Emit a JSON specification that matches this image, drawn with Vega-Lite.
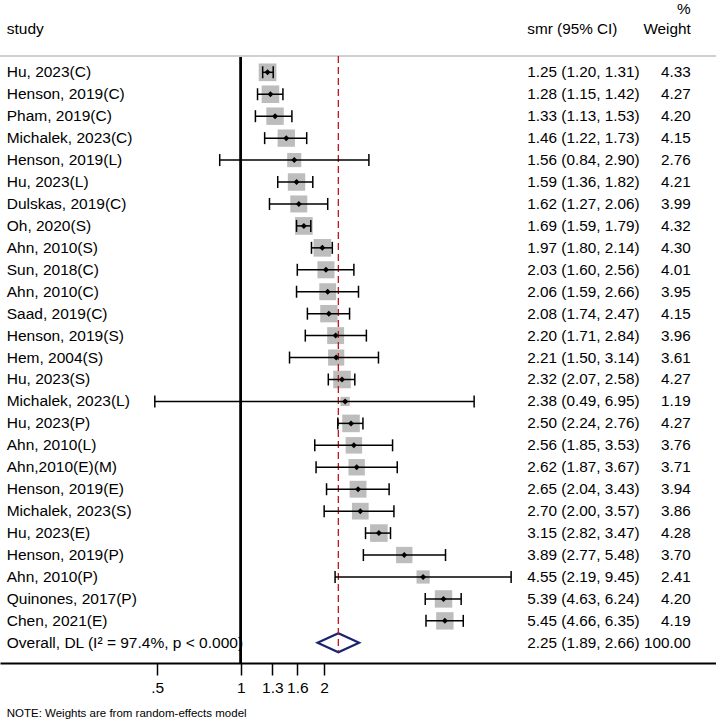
{
  "$schema": "https://vega.github.io/schema/vega-lite/v6.json",
  "width": 716,
  "height": 663,
  "autosize": "none",
  "padding": {"left": 0, "top": 0, "right": 0, "bottom": 58},
  "background": "white",
  "config": {"view": {"stroke": null}, "text": {"font": "Liberation Sans", "color": "black"}},
  "datasets": {
    "rows": [
      {"study": "Hu, 2023(C)", "row": 1, "smr": 1.25, "lci": 1.20, "uci": 1.31, "weight": 4.33, "ci": "1.25 (1.20, 1.31)", "wt": "4.33", "kind": "study"},
      {"study": "Henson, 2019(C)", "row": 2, "smr": 1.28, "lci": 1.15, "uci": 1.42, "weight": 4.27, "ci": "1.28 (1.15, 1.42)", "wt": "4.27", "kind": "study"},
      {"study": "Pham, 2019(C)", "row": 3, "smr": 1.33, "lci": 1.13, "uci": 1.53, "weight": 4.20, "ci": "1.33 (1.13, 1.53)", "wt": "4.20", "kind": "study"},
      {"study": "Michalek, 2023(C)", "row": 4, "smr": 1.46, "lci": 1.22, "uci": 1.73, "weight": 4.15, "ci": "1.46 (1.22, 1.73)", "wt": "4.15", "kind": "study"},
      {"study": "Henson, 2019(L)", "row": 5, "smr": 1.56, "lci": 0.84, "uci": 2.90, "weight": 2.76, "ci": "1.56 (0.84, 2.90)", "wt": "2.76", "kind": "study"},
      {"study": "Hu, 2023(L)", "row": 6, "smr": 1.59, "lci": 1.36, "uci": 1.82, "weight": 4.21, "ci": "1.59 (1.36, 1.82)", "wt": "4.21", "kind": "study"},
      {"study": "Dulskas, 2019(C)", "row": 7, "smr": 1.62, "lci": 1.27, "uci": 2.06, "weight": 3.99, "ci": "1.62 (1.27, 2.06)", "wt": "3.99", "kind": "study"},
      {"study": "Oh, 2020(S)", "row": 8, "smr": 1.69, "lci": 1.59, "uci": 1.79, "weight": 4.32, "ci": "1.69 (1.59, 1.79)", "wt": "4.32", "kind": "study"},
      {"study": "Ahn, 2010(S)", "row": 9, "smr": 1.97, "lci": 1.80, "uci": 2.14, "weight": 4.30, "ci": "1.97 (1.80, 2.14)", "wt": "4.30", "kind": "study"},
      {"study": "Sun, 2018(C)", "row": 10, "smr": 2.03, "lci": 1.60, "uci": 2.56, "weight": 4.01, "ci": "2.03 (1.60, 2.56)", "wt": "4.01", "kind": "study"},
      {"study": "Ahn, 2010(C)", "row": 11, "smr": 2.06, "lci": 1.59, "uci": 2.66, "weight": 3.95, "ci": "2.06 (1.59, 2.66)", "wt": "3.95", "kind": "study"},
      {"study": "Saad, 2019(C)", "row": 12, "smr": 2.08, "lci": 1.74, "uci": 2.47, "weight": 4.15, "ci": "2.08 (1.74, 2.47)", "wt": "4.15", "kind": "study"},
      {"study": "Henson, 2019(S)", "row": 13, "smr": 2.20, "lci": 1.71, "uci": 2.84, "weight": 3.96, "ci": "2.20 (1.71, 2.84)", "wt": "3.96", "kind": "study"},
      {"study": "Hem, 2004(S)", "row": 14, "smr": 2.21, "lci": 1.50, "uci": 3.14, "weight": 3.61, "ci": "2.21 (1.50, 3.14)", "wt": "3.61", "kind": "study"},
      {"study": "Hu, 2023(S)", "row": 15, "smr": 2.32, "lci": 2.07, "uci": 2.58, "weight": 4.27, "ci": "2.32 (2.07, 2.58)", "wt": "4.27", "kind": "study"},
      {"study": "Michalek, 2023(L)", "row": 16, "smr": 2.38, "lci": 0.49, "uci": 6.95, "weight": 1.19, "ci": "2.38 (0.49, 6.95)", "wt": "1.19", "kind": "study"},
      {"study": "Hu, 2023(P)", "row": 17, "smr": 2.50, "lci": 2.24, "uci": 2.76, "weight": 4.27, "ci": "2.50 (2.24, 2.76)", "wt": "4.27", "kind": "study"},
      {"study": "Ahn, 2010(L)", "row": 18, "smr": 2.56, "lci": 1.85, "uci": 3.53, "weight": 3.76, "ci": "2.56 (1.85, 3.53)", "wt": "3.76", "kind": "study"},
      {"study": "Ahn,2010(E)(M)", "row": 19, "smr": 2.62, "lci": 1.87, "uci": 3.67, "weight": 3.71, "ci": "2.62 (1.87, 3.67)", "wt": "3.71", "kind": "study"},
      {"study": "Henson, 2019(E)", "row": 20, "smr": 2.65, "lci": 2.04, "uci": 3.43, "weight": 3.94, "ci": "2.65 (2.04, 3.43)", "wt": "3.94", "kind": "study"},
      {"study": "Michalek, 2023(S)", "row": 21, "smr": 2.70, "lci": 2.00, "uci": 3.57, "weight": 3.86, "ci": "2.70 (2.00, 3.57)", "wt": "3.86", "kind": "study"},
      {"study": "Hu, 2023(E)", "row": 22, "smr": 3.15, "lci": 2.82, "uci": 3.47, "weight": 4.28, "ci": "3.15 (2.82, 3.47)", "wt": "4.28", "kind": "study"},
      {"study": "Henson, 2019(P)", "row": 23, "smr": 3.89, "lci": 2.77, "uci": 5.48, "weight": 3.70, "ci": "3.89 (2.77, 5.48)", "wt": "3.70", "kind": "study"},
      {"study": "Ahn, 2010(P)", "row": 24, "smr": 4.55, "lci": 2.19, "uci": 9.45, "weight": 2.41, "ci": "4.55 (2.19, 9.45)", "wt": "2.41", "kind": "study"},
      {"study": "Quinones, 2017(P)", "row": 25, "smr": 5.39, "lci": 4.63, "uci": 6.24, "weight": 4.20, "ci": "5.39 (4.63, 6.24)", "wt": "4.20", "kind": "study"},
      {"study": "Chen, 2021(E)", "row": 26, "smr": 5.45, "lci": 4.66, "uci": 6.35, "weight": 4.19, "ci": "5.45 (4.66, 6.35)", "wt": "4.19", "kind": "study"},
      {"study": "Overall, DL (I² = 97.4%, p < 0.000)", "row": 27, "smr": 2.25, "lci": 1.89, "uci": 2.66, "weight": 100, "ci": "2.25 (1.89, 2.66)", "wt": "100.00", "kind": "overall"}
    ]
  },
  "data": {"name": "rows"},
  "layer": [
    {
      "mark": {"type": "rule", "color": "black", "strokeWidth": 1.5},
      "encoding": {
        "x": {"datum": 1, "type": "quantitative", "scale": {"type": "log", "domain": [0.13545, 51.81], "nice": false, "zero": false}, "axis": {"values": [0.5, 1, 1.3, 1.6, 2], "labelExpr": "datum.value == 0.5 ? '.5' : datum.label", "title": null, "grid": false, "domainColor": "black", "domainWidth": 2, "tickColor": "black", "tickWidth": 1.5, "tickSize": 12, "labelColor": "black", "labelFont": "Liberation Sans", "labelFontSize": 15.5, "labelPadding": 5, "labelFlush": false, "labelOverlap": false}},
        "y": {"datum": 0.257, "type": "quantitative", "scale": {"domain": [-2.295, 27.92], "reverse": true, "nice": false, "zero": false}, "axis": null},
        "y2": {"datum": 27.92}
      }
    },
    {
      "mark": {"type": "rule", "color": "#d0d0d0", "strokeWidth": 2},
      "encoding": {"y": {"datum": 0.257, "type": "quantitative"}, "x": {"datum": 0.13545, "type": "quantitative"}, "x2": {"datum": 51.81}}
    },
    {
      "transform": [{"filter": "datum.kind == 'study'"}],
      "mark": {"type": "point", "shape": "square", "filled": true, "color": "#bdbdbd", "opacity": 1},
      "encoding": {
        "x": {"field": "smr", "type": "quantitative"},
        "y": {"field": "row", "type": "quantitative"},
        "size": {"field": "weight", "type": "quantitative", "scale": {"type": "linear", "domain": [0, 4.33], "range": [0, 313]}, "legend": null}
      }
    },
    {
      "transform": [{"filter": "datum.kind == 'overall'"}],
      "mark": {"type": "point", "shape": "M-1,0L0,-0.458L1,0L0,0.458Z", "size": 1722, "filled": false, "stroke": "#1a2370", "strokeWidth": 2.2, "opacity": 1},
      "encoding": {"x": {"field": "smr", "type": "quantitative"}, "y": {"field": "row", "type": "quantitative"}}
    },
    {
      "transform": [{"filter": "datum.kind == 'overall'"}],
      "mark": {"type": "rule", "color": "#c4161c", "strokeWidth": 1.3, "strokeDash": [7, 4]},
      "encoding": {"x": {"field": "smr", "type": "quantitative"}, "y": {"datum": 0.257, "type": "quantitative"}, "y2": {"datum": 27.42}}
    },
    {
      "transform": [{"filter": "datum.kind == 'study'"}],
      "mark": {"type": "rule", "color": "black", "strokeWidth": 1.5},
      "encoding": {"x": {"field": "lci", "type": "quantitative"}, "x2": {"field": "uci"}, "y": {"field": "row", "type": "quantitative"}}
    },
    {
      "transform": [{"filter": "datum.kind == 'study'"}],
      "mark": {"type": "tick", "orient": "vertical", "color": "black", "size": 12, "thickness": 1.5, "opacity": 1},
      "encoding": {"x": {"field": "lci", "type": "quantitative"}, "y": {"field": "row", "type": "quantitative"}}
    },
    {
      "transform": [{"filter": "datum.kind == 'study'"}],
      "mark": {"type": "tick", "orient": "vertical", "color": "black", "size": 12, "thickness": 1.5, "opacity": 1},
      "encoding": {"x": {"field": "uci", "type": "quantitative"}, "y": {"field": "row", "type": "quantitative"}}
    },
    {
      "transform": [{"filter": "datum.kind == 'study'"}],
      "mark": {"type": "point", "shape": "diamond", "filled": true, "color": "black", "size": 36, "opacity": 1},
      "encoding": {"x": {"field": "smr", "type": "quantitative"}, "y": {"field": "row", "type": "quantitative"}}
    },
    {
      "mark": {"type": "text", "align": "left", "baseline": "middle", "fontSize": 15.5},
      "encoding": {"x": {"datum": 0.1432, "type": "quantitative"}, "y": {"field": "row", "type": "quantitative"}, "text": {"field": "study"}}
    },
    {
      "mark": {"type": "text", "align": "left", "baseline": "middle", "fontSize": 15.3},
      "encoding": {"x": {"datum": 10.81, "type": "quantitative"}, "y": {"field": "row", "type": "quantitative"}, "text": {"field": "ci"}}
    },
    {
      "mark": {"type": "text", "align": "right", "baseline": "middle", "fontSize": 15.3},
      "encoding": {"x": {"datum": 42.0, "type": "quantitative"}, "y": {"field": "row", "type": "quantitative"}, "text": {"field": "wt"}}
    },
    {
      "data": {"values": [{"label": "study"}]},
      "mark": {"type": "text", "align": "left", "baseline": "middle", "fontSize": 15.5},
      "encoding": {"x": {"datum": 0.1432, "type": "quantitative"}, "y": {"datum": -0.96, "type": "quantitative"}, "text": {"field": "label"}}
    },
    {
      "data": {"values": [{"label": "smr (95% CI)"}]},
      "mark": {"type": "text", "align": "left", "baseline": "middle", "fontSize": 15.3},
      "encoding": {"x": {"datum": 10.81, "type": "quantitative"}, "y": {"datum": -0.96, "type": "quantitative"}, "text": {"field": "label"}}
    },
    {
      "data": {"values": [{"label": "Weight"}]},
      "mark": {"type": "text", "align": "right", "baseline": "middle", "fontSize": 15.3},
      "encoding": {"x": {"datum": 42.0, "type": "quantitative"}, "y": {"datum": -0.96, "type": "quantitative"}, "text": {"field": "label"}}
    },
    {
      "data": {"values": [{"label": "%"}]},
      "mark": {"type": "text", "align": "right", "baseline": "middle", "fontSize": 15.3},
      "encoding": {"x": {"datum": 42.0, "type": "quantitative"}, "y": {"datum": -1.9, "type": "quantitative"}, "text": {"field": "label"}}
    },
    {
      "data": {"values": [{"label": "NOTE: Weights are from random-effects model"}]},
      "mark": {"type": "text", "align": "left", "baseline": "middle", "fontSize": 11.5},
      "encoding": {"x": {"datum": 0.1432, "type": "quantitative"}, "y": {"datum": 30.25, "type": "quantitative"}, "text": {"field": "label"}}
    }
  ]
}
